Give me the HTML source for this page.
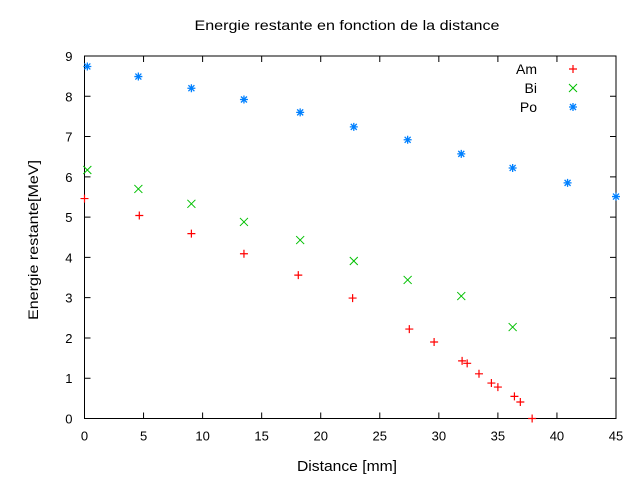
<!DOCTYPE html>
<html><head><meta charset="utf-8"><style>
body{margin:0;background:#fff;}
svg{display:block;font-family:"Liberation Sans",sans-serif;}
</style></head><body>
<svg id="chart" width="640" height="480">
<text x="347" y="30" font-size="14" text-anchor="middle" textLength="305" lengthAdjust="spacingAndGlyphs">Energie restante en fonction de la distance</text>
<text x="297" y="471" font-size="15" textLength="100" lengthAdjust="spacingAndGlyphs">Distance [mm]</text>
<text x="38" y="240" font-size="14" text-anchor="middle" textLength="160" lengthAdjust="spacingAndGlyphs" transform="rotate(-90 38 240)">Energie restante[MeV]</text>
<g id="axes"></g>
<g id="marks"></g>
<g id="legend"></g>
</svg>
<script>
const xTicks=[0,5,10,15,20,25,30,35,40,45];
const yTicks=[0,1,2,3,4,5,6,7,8,9];
const amX=[0,4.64,9.05,13.5,18.1,22.7,27.5,29.6,31.97,32.4,33.4,34.45,35.0,36.4,36.9,37.9];
const amY=[5.46,5.04,4.59,4.09,3.56,2.99,2.22,1.90,1.43,1.37,1.11,0.88,0.78,0.55,0.41,0];
const biX=[0.24,4.56,9.05,13.5,18.26,22.8,27.36,31.9,36.25];
const biY=[6.17,5.70,5.33,4.88,4.43,3.91,3.44,3.04,2.27];
const poX=[0.24,4.56,9.05,13.5,18.26,22.8,27.36,31.9,36.25,40.9,45];
const poY=[8.74,8.49,8.20,7.92,7.60,7.24,6.92,6.57,6.22,5.85,5.51];
const L=84.5,R=616,T=56,B=418.5;
const sx=v=>L+(v-0)/45*(R-L);
const sy=v=>B-(v-0)/9*(B-T);
const NS='http://www.w3.org/2000/svg';
function mk(tag,attrs,parent){const e=document.createElementNS(NS,tag);for(const k in attrs)e.setAttribute(k,attrs[k]);parent.appendChild(e);return e;}
const axes=document.getElementById('axes'),marks=document.getElementById('marks'),leg=document.getElementById('legend');
const frame=mk('rect',{x:L,y:T,width:R-L,height:B-T,fill:'none',stroke:'#000','stroke-width':1},axes);


xTicks.forEach(v=>{const x=sx(v);
 mk('path',{d:`M${x},${B}v-6M${x},${T}v6`,stroke:'#000'},axes);
 const t=mk('text',{x:x,y:B+22,'font-size':13,'text-anchor':'middle'},axes);t.textContent=v;
 
 });
yTicks.forEach(v=>{const y=sy(v);
 mk('path',{d:`M${L},${y}h6M${R},${y}h-6`,stroke:'#000'},axes);
 const t=mk('text',{x:L-12,y:y+5,'font-size':13,'text-anchor':'end'},axes);t.textContent=v;
 
 });
function plus(x,y,c,p){return mk('path',{d:`M${x-4},${y}h8M${x},${y-4}v8`,stroke:c,'stroke-width':1.2,fill:'none'},p);}
function cross(x,y,c,p){return mk('path',{d:`M${x-4},${y-4}l8,8M${x-4},${y+4}l8,-8`,stroke:c,'stroke-width':1,fill:'none'},p);}
function star(x,y,c,p){return mk('path',{d:`M${x-4},${y}h8M${x},${y-4}v8M${x-3},${y-3}l6,6M${x-3},${y+3}l6,-6`,stroke:c,'stroke-width':1.3,fill:'none'},p);}
amX.forEach((v,i)=>{const e=plus(sx(v),sy(amY[i]),'#ff0000',marks);
 
 });
biX.forEach((v,i)=>{const e=cross(sx(v),sy(biY[i]),'#00c000',marks);
 
 });
poX.forEach((v,i)=>{const e=star(sx(v),sy(poY[i]),'#0080ff',marks);
 
 });
const entries=[['Am',plus,'#ff0000'],['Bi',cross,'#00c000'],['Po',star,'#0080ff']];
entries.forEach((en,i)=>{const y=69+i*19;
 const t=mk('text',{x:537,y:y+5,'font-size':14,'text-anchor':'end'},leg);t.textContent=en[0];
 
 
 const m=en[1](573,y,en[2],leg);
 
 });
</script>
</body></html>
